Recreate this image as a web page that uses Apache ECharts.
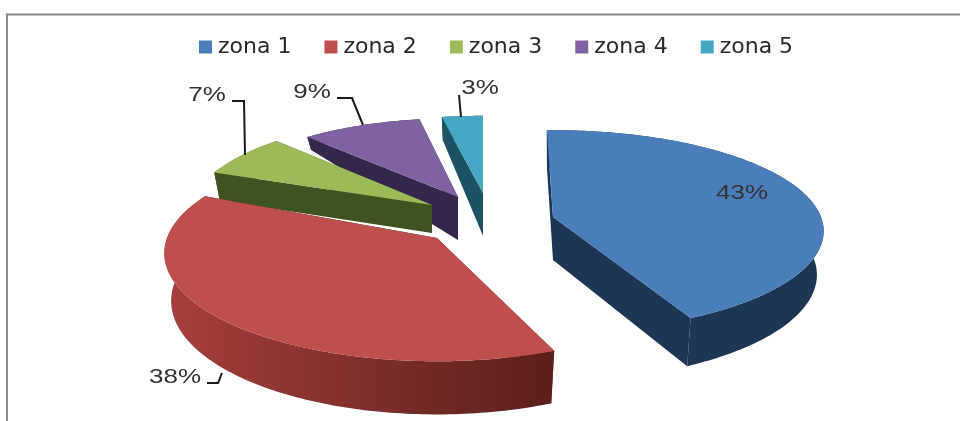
<!DOCTYPE html>
<html><head><meta charset="utf-8">
<style>html,body{margin:0;padding:0;background:#fff}#c{width:960px;height:421px;filter:blur(0.45px)}</style>
<script src="https://cdn.jsdelivr.net/npm/echarts@6/dist/echarts.min.js"></script>
</head><body><div id="c"></div>
<script>
var zoneNames = ['zona 1','zona 2','zona 3','zona 4','zona 5'];
var zoneValues = [43,38,7,9,3];

// Layout and style of the exploded 3D pie (not data)
var firstAngle = -2, centerX = 480, centerY = 215, tilt = 0.14, bottomShrink = 0.975;
var explodeX = [73,-43,-48,-22,3];
var explodeY = [2,23,-10,-18,-22];
var radiusX = [268,270,243,245,250];
var radiusY = [99,106,99,90,88];
var twist = [0.5,5,0.5,2.5,2];
var depthAtApex = [43,47,28,43,43];
var depthSlope = [0.05,0.05,0,0.5,0.26];
var topColors = ['#4a7ebb','#be4f4c','#9bbb59','#7f62a1','#45a7c3'];
var sideLeft = ['#1d3656','#a63f3c','#3f5320','#37264c','#1d5264'];
var sideRight = ['#1d3656','#5a1f1c','#3f5320','#37264c','#1d5264'];
var zOrder = [5,4,3,2,1];
var labelDx = [189,-262,-225,-146,-3];
var labelDy = [-24,139,-110,-105,-105];
var leaders = [
  null,
  [[-230,145],[-219,145],[-215,135]],
  [[-200,-104],[-188,-104],[-187,-50]],
  [[-121,-99],[-106,-99],[-95,-72]],
  [[-24,-98],[-22,-76]]
];

var total = zoneValues.reduce(function(a,b){return a+b;},0);
var starts = [], acc = firstAngle;
zoneValues.forEach(function(v){ starts.push(acc); acc += v/total*360; });

function renderSlice(idx){
  return function(params, api){
    var val = api.value(0);
    var ax = centerX+explodeX[idx], ay = centerY+explodeY[idx];
    var a0 = starts[idx]+twist[idx], a1 = a0+val/total*360;
    function rim(deg){
      var t = deg*Math.PI/180, u = Math.sin(t), v = -Math.cos(t), s = 1/(1-tilt*v);
      return [ax+radiusX[idx]*u*s, ay+radiusY[idx]*v*s];
    }
    function low(p){
      return [ax+(p[0]-ax)*bottomShrink, p[1]+depthAtApex[idx]+depthSlope[idx]*(p[1]-ay)];
    }
    var arc = [], n = Math.max(6, Math.round(a1-a0));
    for (var i=0;i<=n;i++) arc.push(rim(a0+(a1-a0)*i/n));
    var apex = [ax,ay], apexLow = low(apex);
    var first = arc[0], last = arc[arc.length-1];
    var arcLow = arc.map(low).reverse();
    var children = [
      {type:'polygon',shape:{points:[apex,first,low(first),apexLow]},style:{fill:sideLeft[idx]}},
      {type:'polygon',shape:{points:[apex,last,low(last),apexLow]},style:{fill:sideRight[idx]}},
      {type:'polygon',shape:{points:arc.concat(arcLow)},style:{fill:new echarts.graphic.LinearGradient(0,0,1,0,[{offset:0,color:sideLeft[idx]},{offset:1,color:sideRight[idx]}])}},
      {type:'polygon',shape:{points:[apex].concat(arc)},style:{fill:topColors[idx]}}
    ];
    if (leaders[idx]) {
      children.push({type:'polyline',shape:{points:leaders[idx].map(function(p){return [ax+p[0],ay+p[1]];})},style:{fill:null,stroke:'#1a1a1a',lineWidth:2}});
    }
    children.push({type:'text',x:ax+labelDx[idx],y:ay+labelDy[idx],scaleX:1.3,scaleY:1,
      style:{text:val+'%',fill:'#333',font:'20px "Liberation Sans"',align:'center',verticalAlign:'middle'}});
    return {type:'group',children:children};
  };
}

var series = zoneNames.map(function(name,i){
  return {type:'custom',name:name,coordinateSystem:'none',z:zOrder[i],silent:true,
    itemStyle:{color:topColors[i]},data:[[zoneValues[i]]],renderItem:renderSlice(i),clip:false};
});

var chart = echarts.init(document.getElementById('c'),null,{renderer:'canvas'});
chart.setOption({
  animation:false,
  backgroundColor:'#fff',
  color:topColors,
  tooltip:{show:false},
  legend:{data:zoneNames,left:194,top:31,icon:'rect',itemWidth:13,itemHeight:13,itemGap:33,selectedMode:false,
    textStyle:{fontFamily:'DejaVu Sans',fontSize:22,color:'#2a2a2a',padding:[0,0,0,1]}},
  graphic:[
    {type:'polyline',shape:{points:[[7,421],[7,14.5],[960,14.5]]},style:{fill:null,stroke:'#8a8a8a',lineWidth:2},silent:true}
  ],
  series:series
});
</script></body></html>
